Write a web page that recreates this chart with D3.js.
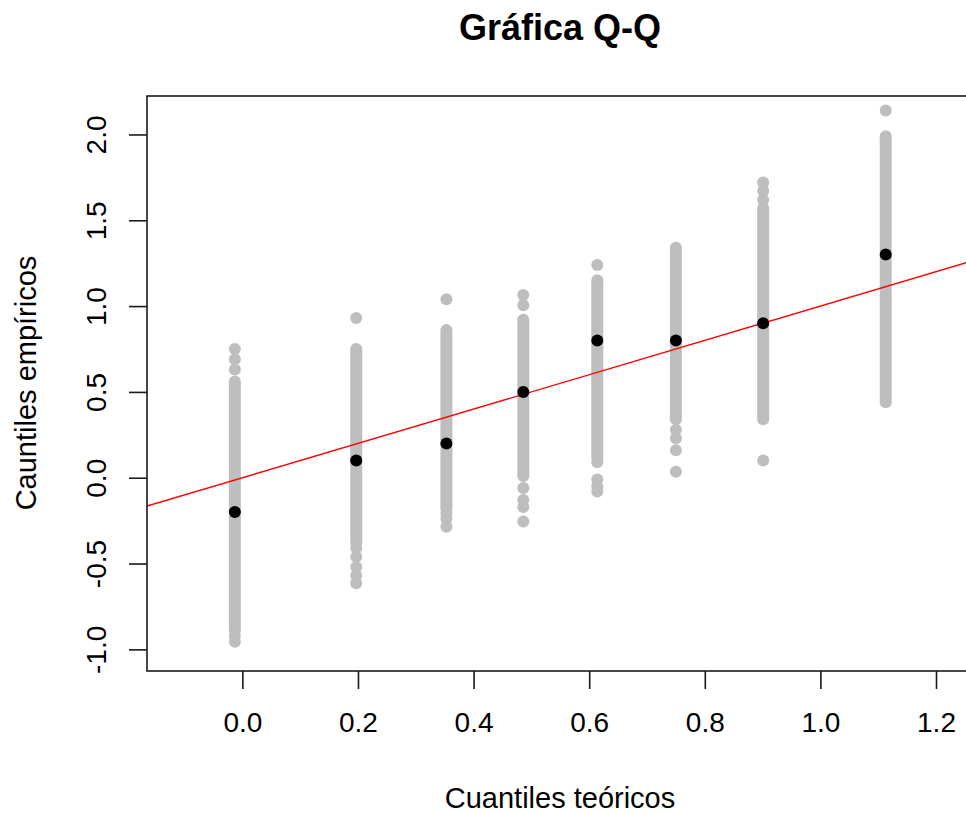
<!DOCTYPE html>
<html>
<head>
<meta charset="utf-8">
<script src="https://cdn.jsdelivr.net/npm/d3@7"></script>
<style>
  body { margin: 0; background: #fff; }
  svg { display: block; overflow: hidden; }
  text { font-family: "Liberation Sans", Arial, sans-serif; fill: #000; }
</style>
</head>
<body>
<svg id="chart" width="966" height="814"></svg>
<script>
// theoretical quantile of each column and the empirical quantile (black dots)
var theoQ = [-0.013, 0.197, 0.353, 0.486, 0.614, 0.750, 0.901, 1.113];
var empQ = [-0.20, 0.10, 0.20, 0.50, 0.80, 0.80, 0.90, 1.30];

// dense part of the gray simulated points in each column (low / high)
var bandLo = [-0.89, -0.38, -0.18, 0.01, 0.12, 0.34, 0.34, 0.44];
var bandHi = [0.56, 0.75, 0.86, 0.92, 1.15, 1.34, 1.57, 1.99];

// loose gray points outside the dense part: [column, value]
var loosePts = [
  [0, 0.75], [0, 0.69], [0, 0.63], [0, -0.92], [0, -0.955],
  [1, 0.93], [1, -0.41], [1, -0.46], [1, -0.52], [1, -0.57], [1, -0.615],
  [2, 1.04], [2, -0.21], [2, -0.24], [2, -0.285],
  [3, 1.065], [3, 1.005], [3, -0.06], [3, -0.13], [3, -0.17], [3, -0.255],
  [4, 1.24], [4, 0.09], [4, -0.01], [4, -0.05], [4, -0.08],
  [5, 0.28], [5, 0.23], [5, 0.16], [5, 0.035],
  [6, 1.72], [6, 1.67], [6, 1.62], [6, 0.10],
  [7, 2.14]
];

var xTicks = [0.0, 0.2, 0.4, 0.6, 0.8, 1.0, 1.2];
var yTicks = [-1.0, -0.5, 0.0, 0.5, 1.0, 1.5, 2.0];

var svg = d3.select('#chart');
var plot = { left: 147, right: 973, top: 96, bottom: 671 };
var r = 6;

// R prints a plain hyphen for negatives
var fmt = function(d) { return d.toFixed(1); };

var x = d3.scaleLinear().domain([-0.165, 1.264]).range([plot.left, plot.right]);
var y = d3.scaleLinear().domain([-1.126, 2.224]).range([plot.bottom, plot.top]);

svg.append('clipPath').attr('id', 'clip')
  .append('rect')
  .attr('x', plot.left).attr('y', plot.top)
  .attr('width', plot.right - plot.left).attr('height', plot.bottom - plot.top);

var g = svg.append('g').attr('clip-path', 'url(#clip)');

// gray bands
g.selectAll('line.band').data(theoQ).enter().append('line')
  .attr('class', 'band')
  .attr('x1', function(d) { return x(d); })
  .attr('x2', function(d) { return x(d); })
  .attr('y1', function(d, i) { return y(bandLo[i]); })
  .attr('y2', function(d, i) { return y(bandHi[i]); })
  .attr('stroke', '#bebebe')
  .attr('stroke-width', r * 2)
  .attr('stroke-linecap', 'round');

g.selectAll('circle.loose').data(loosePts).enter().append('circle')
  .attr('class', 'loose')
  .attr('cx', function(d) { return x(theoQ[d[0]]); })
  .attr('cy', function(d) { return y(d[1]); })
  .attr('r', r)
  .attr('fill', '#bebebe');

// reference line y = x
var lineX = x.domain();
g.append('line')
  .attr('x1', x(lineX[0])).attr('y1', y(lineX[0]))
  .attr('x2', x(lineX[1])).attr('y2', y(lineX[1]))
  .attr('stroke', '#ff0000')
  .attr('stroke-width', 1.4);

// empirical quantiles
g.selectAll('circle.emp').data(theoQ).enter().append('circle')
  .attr('class', 'emp')
  .attr('cx', function(d) { return x(d); })
  .attr('cy', function(d, i) { return y(empQ[i]); })
  .attr('r', r)
  .attr('fill', '#000');

// box
svg.append('rect')
  .attr('x', plot.left).attr('y', plot.top)
  .attr('width', plot.right - plot.left).attr('height', plot.bottom - plot.top)
  .attr('fill', 'none')
  .attr('stroke', '#1a1a1a')
  .attr('stroke-width', 1.6);

// x axis
var xAxis = svg.append('g')
  .attr('transform', 'translate(0,' + plot.bottom + ')')
  .call(d3.axisBottom(x).tickValues(xTicks).tickSize(18).tickPadding(23).tickFormat(fmt));
xAxis.select('.domain').remove();
xAxis.selectAll('line').attr('stroke', '#1a1a1a').attr('stroke-width', 1.6);
xAxis.selectAll('text')
  .style('font-family', '"Liberation Sans", Arial, sans-serif')
  .style('font-size', '28px').attr('fill', '#000');

// y axis (labels parallel to the axis, like R)
var yAxis = svg.append('g')
  .attr('transform', 'translate(' + plot.left + ',0)')
  .call(d3.axisLeft(y).tickValues(yTicks).tickSize(18).tickFormat(fmt));
yAxis.select('.domain').remove();
yAxis.selectAll('line').attr('stroke', '#1a1a1a').attr('stroke-width', 1.6);
yAxis.selectAll('text').remove();
yAxis.selectAll('.tick').append('text')
  .attr('transform', 'translate(-41,0) rotate(-90)')
  .attr('text-anchor', 'middle')
  .style('font-size', '28px')
  .text(fmt);

// titles
svg.append('text')
  .attr('x', 560).attr('y', 40)
  .attr('text-anchor', 'middle')
  .style('font-size', '36px').style('font-weight', 'bold')
  .text('Gráfica Q-Q');

svg.append('text')
  .attr('x', 560).attr('y', 808)
  .attr('text-anchor', 'middle')
  .style('font-size', '29px')
  .text('Cuantiles teóricos');

svg.append('text')
  .attr('transform', 'translate(36,383) rotate(-90)')
  .attr('text-anchor', 'middle')
  .style('font-size', '29px')
  .text('Cauntiles empíricos');
</script>
</body>
</html>
